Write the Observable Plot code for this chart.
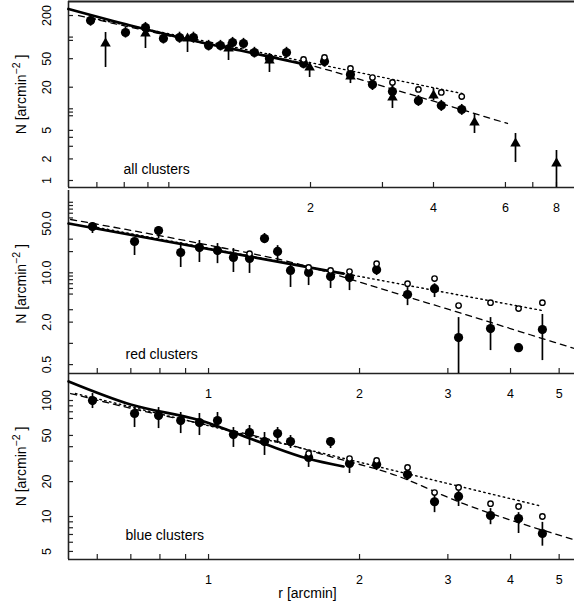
<!DOCTYPE html>
<html>
<head>
<meta charset="utf-8">
<script src="https://cdn.jsdelivr.net/npm/d3@7"></script>
<script src="https://cdn.jsdelivr.net/npm/@observablehq/plot@0.6"></script>
<style>
  html, body { margin: 0; padding: 0; background: white; }
  #chart { position: relative; width: 574px; height: 610px; }
  #chart svg { position: absolute; left: 0; top: 0; }
</style>
</head>
<body>
<div id="chart"></div>
<script>
// ---------- Panel 1: all clusters ----------
const allCircR = [0.579,0.705,0.789,0.873,0.956,1.034,1.126,1.204,1.289,1.371,1.458,1.587,1.747,1.923,2.164,2.505,2.836,3.174,3.674,4.18,4.69];
const allCircN = [170,116,136,95.6,98.7,98.7,76.4,76.4,84.1,81.4,61.0,50.3,61.0,42.8,45.7,30.1,21.8,17.4,13.0,11.1,9.78];
const allCircLo = [142,97,113,80,82,82,64,64,70,68,51,42,51,36,38,25,18,14.5,10.8,9.2,8.1];
const allCircHi = [200,138,160,113,117,117,90,90,99,96,72,59,72,50,54,35.5,25.7,20.5,15.3,13.1,11.5];
const allOpenR = [1.923,2.164,2.505,2.836,3.174,3.674,4.18,4.69];
const allOpenN = [48.7,51.9,36.5,27.3,23.3,18.6,16.9,14.8];
const allTriR = [0.630,0.789,1.0,1.26,1.587,1.99,2.505,3.174,4.0,5.04,6.35,8.0];
const allTriN = [81.4,112,95.6,69.3,47.2,37.7,28.2,14.4,15.3,6.44,3.28,1.73];
const allTriLo = [37.7,69.3,61,47.2,32.1,27.3,22.5,10.1,13.0,4.52,1.78,0.8];
const allTriHi = [116,145,105,84,55,44,34,21.1,19.2,8.6,4.52,2.62];
const allSolidR = [0.511,0.725,1.076,1.348,1.89];
const allSolidN = [246.6,145,84.9,65,42.8];
const allDashR = [0.541,1.076,1.923,3.14,6.07];
const allDashN = [200,84,42.8,19.2,6.24];
const allDotR = [0.589,4.71];
const allDotN = [181.7,16.3];
const allXTicks = [0.6,0.7,0.8,0.9,2,3,4,6,7,8];
const allXLabels = [2,4,6,8];
const allYTicks = [1,2,3,4,5,8,9,10,20,50,90,100,200];
const allYLabels = ["1","2","5","20","50","200"];

// ---------- Panel 2: red clusters ----------
const redR = [0.587,0.712,0.795,0.880,0.959,1.042,1.121,1.207,1.293,1.373,1.457,1.583,1.751,1.910,2.163,2.493,2.822,3.151,3.649,4.15,4.63];
const redN = [45.3,27.8,39.8,19.4,22.8,20.7,16.5,16.0,30.6,20.1,10.8,10.1,8.86,8.57,11.1,4.93,5.97,1.21,1.62,0.87,1.57];
const redLo = [36.1,17.6,30.6,11.9,14.0,13.5,10.1,9.8,26.0,14.0,6.2,6.6,6.0,5.6,9.15,3.43,4.46,0.374,0.79,0.87,0.57];
const redHi = [51.6,30.6,45.3,26.8,28.7,26.0,22.1,19.4,36.1,24.3,13.5,12.7,11.5,10.1,13.5,6.17,7.0,2.32,2.32,0.87,2.57];
const redOpenR = [1.207,1.583,1.751,1.910,2.163,2.493,2.822,3.151,3.649,4.15,4.63];
const redOpenN = [18.7,11.9,10.8,10.4,13.5,7.0,8.3,3.43,3.78,3.11,3.78];
const redSolidR = [0.526,1.858];
const redSolidN = [50,9.76];
const redDashR = [0.531,0.964,1.525,2.203,5.37];
const redDashN = [57.0,26.0,13.1,5.97,0.843];
const redDotR = [0.587,4.63];
const redDotN = [45.3,2.92];
const redYTicks = [0.5,1,2,3,5,6,7,8,9,10,20,30,50,60,70,80,90,100];
const redYLabels = ["0.5","2.0","10.0","50.0"];

// ---------- Panel 3: blue clusters ----------
const blueR = [0.587,0.712,0.795,0.880,0.959,1.042,1.121,1.207,1.293,1.373,1.457,1.583,1.751,1.910,2.163,2.493,2.822,3.151,3.649,4.15,4.63];
const blueN = [100,77.3,74.2,67.2,64.6,67.2,50.9,53.0,44.3,51.9,44.3,32.3,44.3,28.7,28.1,23.0,13.4,14.9,10.2,9.6,7.14];
const blueLo = [85.3,58.5,57.3,51.9,49.9,60.9,39.4,40.9,33.6,42.6,38.6,26.5,38.6,23.5,24.9,20.4,10.8,12.2,8.5,7.14,5.55];
const blueHi = [114.9,87.0,87.0,78.8,77.3,78.8,58.5,60.9,53.0,58.5,49.9,35.7,48.0,32.3,31.6,26.5,15.8,17.4,11.7,10.8,8.9];
const blueOpenR = [1.583,1.910,2.163,2.493,2.822,3.151,3.649,4.15,4.63];
const blueOpenN = [34.9,31.6,30.4,26.5,16.1,17.8,12.9,12.2,10.0];
const blueSolidR = [0.526,0.699,0.964,1.287,1.575,1.858];
const blueSolidN = [146,92.4,67.2,42.6,31.6,27.0];
const blueDashR = [0.531,0.732,0.964,1.348,1.775,2.306,3.224,5.34];
const blueDashN = [114.9,82.0,63.4,45.2,32.3,23.5,12.9,6.34];
const blueDotR = [0.543,4.55];
const blueDotN = [114.9,12.45];
const blueYTicks = [5,6,7,8,9,10,20,30,40,50,70,80,90,100];
const blueYLabels = ["5","10","20","50","100"];

const lowXTicks = [0.6,0.7,0.8,0.9,1,2,3,4,5];
const lowXLabels = [1,2,3,4,5];

const FONT = '"Liberation Sans", Arial, Helvetica, sans-serif';
const W = 574, H = 610, ML = 68;

const pts = (r, n, lo, hi) => r.map((v, i) => ({r: v, n: n[i], lo: lo ? lo[i] : null, hi: hi ? hi[i] : null}));

function panel(cfg) {
  const plotW = W - ML;
  const plotH = cfg.bottom - cfg.top;
  const marks = [
    // inward ticks
    Plot.tickY(cfg.yTicks, {y: d => d, insetRight: plotW - 5, strokeWidth: 1.2, stroke: "#222"}),
    Plot.tickX(cfg.xTicks, {x: d => d, insetTop: plotH - 5, strokeWidth: 1.2, stroke: "#222"}),
    // axis lines
    Plot.ruleX([cfg.xDomain[0]], {strokeWidth: 1.6, stroke: "#222"}),
    Plot.ruleY([cfg.yDomain[0]], {strokeWidth: 1.6, stroke: "#222"}),
    // tick labels
    Plot.text(cfg.xLabels, {x: d => d, text: d => String(d), frameAnchor: "bottom", dy: 20, lineAnchor: "middle", textAnchor: "middle", fontSize: 12.5, fill: "black"}),
    Plot.text(cfg.yLabels, {y: d => +d, text: d => d, frameAnchor: "left", dx: -22, rotate: -90, textAnchor: "middle", lineAnchor: "middle", fontSize: 12.5, fill: "black"}),
    // axis title & panel label
    Plot.text(["N [arcmin-2]"], {text: d => d, frameAnchor: "left", dx: -47, dy: cfg.titleDy || 0, rotate: -90, textAnchor: "middle", lineAnchor: "middle", fontSize: 14, fill: "black"}),
    Plot.text([cfg.label], {text: d => d, frameAnchor: "bottom-left", dx: cfg.labelDx, dy: cfg.labelDy, textAnchor: "start", lineAnchor: "middle", fontSize: 14, fill: "black"}),
    // model curves
    Plot.line(pts(cfg.solidR, cfg.solidN), {x: "r", y: "n", strokeWidth: 2.7, curve: "monotone-x", stroke: "black"}),
    Plot.line(pts(cfg.dashR, cfg.dashN), {x: "r", y: "n", strokeWidth: 1.3, strokeDasharray: "6,5", curve: "monotone-x", stroke: "black"}),
    Plot.line(pts(cfg.dotR, cfg.dotN), {x: "r", y: "n", strokeWidth: 1.4, strokeDasharray: "1.5,3.5", stroke: "black"}),
    // error bars and points
    Plot.ruleX(pts(cfg.circR, cfg.circN, cfg.circLo, cfg.circHi), {x: "r", y1: "lo", y2: "hi", strokeWidth: 1.7, stroke: "black"}),
    Plot.dot(pts(cfg.circR, cfg.circN), {x: "r", y: "n", r: 4.6, fill: "black", stroke: "none"}),
    Plot.dot(pts(cfg.openR, cfg.openN), {x: "r", y: "n", r: 2.7, fill: "white", stroke: "black", strokeWidth: 1.4})
  ];
  if (cfg.triR) {
    marks.push(Plot.ruleX(pts(cfg.triR, cfg.triN, cfg.triLo, cfg.triHi), {x: "r", y1: "lo", y2: "hi", strokeWidth: 1.7, stroke: "black"}));
    marks.push(Plot.dot(pts(cfg.triR, cfg.triN), {x: "r", y: "n", r: 3.9, symbol: "triangle", fill: "black", stroke: "none"}));
  }
  if (cfg.topBorder) marks.push(Plot.ruleY([cfg.yDomain[1]], {strokeWidth: 1.8, stroke: "#222"}));
  if (cfg.xTitle) marks.push(Plot.text([cfg.xTitle], {text: d => d, frameAnchor: "bottom", dx: -14, dy: 34, lineAnchor: "middle", textAnchor: "middle", fontSize: 14, fill: "black"}));

  const svg = Plot.plot({
    width: W, height: H,
    marginLeft: ML, marginRight: 0,
    marginTop: cfg.top, marginBottom: H - cfg.bottom,
    x: {type: "log", domain: cfg.xDomain, axis: null},
    y: {type: "log", domain: cfg.yDomain, axis: null},
    style: {background: "transparent", fontFamily: FONT, color: "black", overflow: "visible"},
    marks
  });
  // superscript in the axis title
  d3.select(svg).selectAll("text").filter(function() { return this.textContent === "N [arcmin-2]"; })
    .each(function() {
      const t = d3.select(this);
      t.text(null);
      t.append("tspan").text("N [arcmin");
      t.append("tspan").attr("dy", -6).attr("font-size", 10.5).text("\u22122");
      t.append("tspan").attr("dy", 6).text(" ]");
    });
  return svg;
}

const chart = document.getElementById("chart");

chart.appendChild(panel({
  top: 1, bottom: 187,
  xDomain: [0.5113, 8.855], yDomain: [0.7986, 313.7],
  xTicks: allXTicks, xLabels: allXLabels, yTicks: allYTicks, yLabels: allYLabels,
  label: "all clusters", labelDx: 55, labelDy: -18,
  solidR: allSolidR, solidN: allSolidN, dashR: allDashR, dashN: allDashN, dotR: allDotR, dotN: allDotN,
  circR: allCircR, circN: allCircN, circLo: allCircLo, circHi: allCircHi,
  openR: allOpenR, openN: allOpenN,
  triR: allTriR, triN: allTriN, triLo: allTriLo, triHi: allTriHi,
  topBorder: true
}));

chart.appendChild(panel({
  top: 190, bottom: 373,
  xDomain: [0.5258, 5.365], yDomain: [0.374, 146.9],
  xTicks: lowXTicks, xLabels: lowXLabels, yTicks: redYTicks, yLabels: redYLabels,
  label: "red clusters", labelDx: 57, labelDy: -19, titleDy: 2,
  solidR: redSolidR, solidN: redSolidN, dashR: redDashR, dashN: redDashN, dotR: redDotR, dotN: redDotN,
  circR: redR, circN: redN, circLo: redLo, circHi: redHi,
  openR: redOpenR, openN: redOpenN
}));

chart.appendChild(panel({
  top: 373, bottom: 559,
  xDomain: [0.5258, 5.365], yDomain: [4.26, 171],
  xTicks: lowXTicks, xLabels: lowXLabels, yTicks: blueYTicks, yLabels: blueYLabels,
  label: "blue clusters", labelDx: 57, labelDy: -24,
  solidR: blueSolidR, solidN: blueSolidN, dashR: blueDashR, dashN: blueDashN, dotR: blueDotR, dotN: blueDotN,
  circR: blueR, circN: blueN, circLo: blueLo, circHi: blueHi,
  openR: blueOpenR, openN: blueOpenN,
  xTitle: "r [arcmin]"
}));
</script>
</body>
</html>
